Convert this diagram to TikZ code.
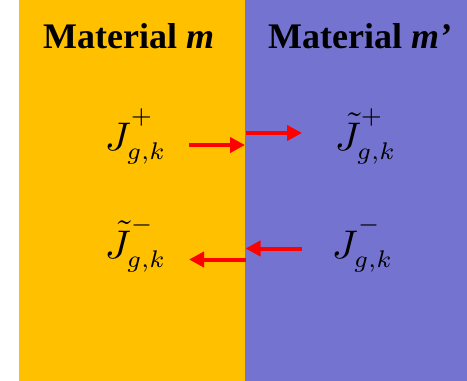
\documentclass[tikz,border=0pt]{standalone}
\usepackage{graphicx}
\usepackage{fontspec}
\newfontfamily\titlefont{Liberation Serif}
\usetikzlibrary{arrows.meta}
\definecolor{matA}{RGB}{255,192,0}
\definecolor{matB}{RGB}{116,116,208}
\newcommand{\supx}[1]{\raisebox{2.45pt}{\scalebox{0.86}{$\scriptstyle #1$}}}
\newcommand{\subx}[1]{\raisebox{0.2pt}{\scalebox{0.86}{$\scriptstyle #1$}}}
\tikzset{
  titletext/.style={inner sep=0pt, anchor=base west, font=\titlefont\fontsize{36}{40}\selectfont\bfseries},
  flux/.style={inner sep=0pt, anchor=base west, scale=4.0},
  redarrow/.style={draw=red, line width=4pt, -{Triangle[length=15pt,width=15pt]}},
}
\begin{document}
\begin{tikzpicture}[x=1pt,y=-1pt]
\useasboundingbox (0,0) rectangle (467,381);
\fill[white] (0,0) rectangle (467,381);
\fill[matA] (19,0) rectangle (245,381);
\fill[matB] (245,0) rectangle (467,381);
\node[titletext] (tA) at (43,48) {Material \textit{m}};
\node[titletext] (tB) at (268,48) {Material \textit{m’}};
\node[flux] (jpl) at (104,150) {$\displaystyle J^{\supx{+}}_{\subx{g,k}}$};
\node[flux] (jpr) at (334,150) {$\displaystyle \tilde{J}^{\supx{+}}_{\subx{g,k}}$};
\node[flux] (jml) at (104,258) {$\displaystyle \tilde{J}^{\supx{-}}_{\subx{g,k}}$};
\node[flux] (jmr) at (331,258) {$\displaystyle J^{\supx{-}}_{\subx{g,k}}$};
\coordinate (a1s) at (189,145);
\coordinate (a1e) at (245,145);
\coordinate (a2s) at (245.5,133);
\coordinate (a2e) at (302,133);
\coordinate (a3s) at (302,248.5);
\coordinate (a3e) at (245.5,248.5);
\coordinate (a4s) at (245.5,259.5);
\coordinate (a4e) at (189,259.5);
\draw[redarrow] (a1s) -- (a1e);
\draw[redarrow] (a2s) -- (a2e);
\draw[redarrow] (a3s) -- (a3e);
\draw[redarrow] (a4s) -- (a4e);
\end{tikzpicture}
\end{document}
